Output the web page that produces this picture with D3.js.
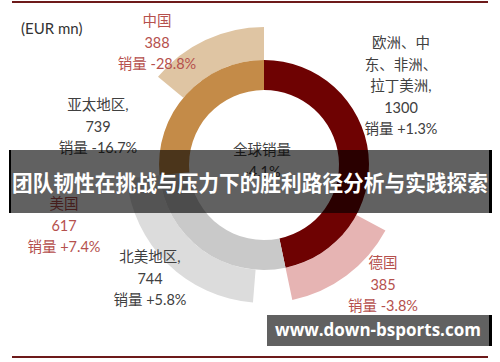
<!DOCTYPE html>
<html>
<head>
<meta charset="utf-8">
<script src="https://d3js.org/d3.v7.min.js"></script>
<style>
  body { margin: 0; background: #fff; }
  svg { display: block; }
</style>
</head>
<body>
<script>
// data
var regions = ["欧洲、中东、非洲、拉丁美洲", "北美地区", "亚太地区"];
var regionSales = [1300, 744, 739];
var regionGrowth = ["+1.3%", "+5.8%", "-16.7%"];
var countries = ["德国", "美国", "中国"];
var countrySales = [385, 617, 388];
var countryGrowth = ["-3.8%", "+7.4%", "-28.8%"];
var globalGrowth = "-4.1%";
var unit = "(EUR mn)";
var title = "团队韧性在挑战与压力下的胜利路径分析与实践探索";
var site = "www.down-bsports.com";

// styling / layout
var W = 500, H = 362;
var cx = 264, cy = 165;
var rHole = 75, rInner = 105, rOuter = 138;
var regionColors = ["#6e0202", "#c9c9c9", "#c48b48"];
var countryColors = ["#e6b4b3", "#dcdcdc", "#dfc5a3"];
var darkText = "#404040", redText = "#b5504d";

var svg = d3.select("body").append("svg").attr("width", W).attr("height", H);

// frame lines
svg.append("rect").attr("x", 12).attr("y", 1).attr("width", 476).attr("height", 2).attr("fill", "#6d1a1a");
svg.append("rect").attr("x", 12).attr("y", 356).attr("width", 476).attr("height", 2).attr("fill", "#6d1a1a");

var total = d3.sum(regionSales);
var ang = d3.scaleLinear().domain([0, total]).range([0, 2 * Math.PI]);

var g = svg.append("g").attr("transform", "translate(" + cx + "," + cy + ")");

var pie = d3.pie().sort(null).value(function(d) { return d; });
var inner = pie(regionSales);
var arcIn = d3.arc().innerRadius(rHole).outerRadius(rInner);

// outer ring: each country sits at the end of its region
var cum = d3.cumsum(regionSales);
var outer = countrySales.map(function(v, i) {
  return { startAngle: ang(cum[i] - v), endAngle: ang(cum[i]), i: i };
});
var arcOut = d3.arc().innerRadius(rInner).outerRadius(rOuter);

g.selectAll("path.out").data(outer).enter().append("path")
  .attr("class", "out")
  .attr("d", arcOut)
  .attr("fill", function(d) { return countryColors[d.i]; });

g.selectAll("path.in").data(inner).enter().append("path")
  .attr("class", "in")
  .attr("d", arcIn)
  .attr("fill", function(d, i) { return regionColors[i]; });

// labels
var font = "Lato, 'Noto Sans CJK SC', sans-serif";
function label(lines, x, y0, color) {
  var t = svg.append("g");
  lines.forEach(function(s, k) {
    t.append("text")
      .attr("x", x).attr("y", y0 + k * 21.5)
      .attr("dy", "0.35em")
      .attr("text-anchor", "middle")
      .attr("font-family", font)
      .attr("font-size", 14.5)
      .attr("fill", color)
      .text(s);
  });
}

svg.append("text").attr("x", 21).attr("y", 29).attr("dy", "0.35em")
  .attr("font-family", font).attr("font-size", 15).attr("fill", "#333").text(unit);

label(["欧洲、中", "东、非洲、", "拉丁美洲,", regionSales[0], "销量 " + regionGrowth[0]], 401, 43, darkText);
label(["北美地区,", regionSales[1], "销量 " + regionGrowth[1]], 150, 257, darkText);
label([regions[2] + ",", regionSales[2], "销量 " + regionGrowth[2]], 98, 105, darkText);
label([countries[0], countrySales[0], "销量 " + countryGrowth[0]], 383, 263, redText);
label([countries[1], countrySales[1], "销量 " + countryGrowth[1]], 64, 204, redText);
label([countries[2], countrySales[2], "销量 " + countryGrowth[2]], 157, 21, redText);
label(["全球销量", globalGrowth], 262, 150, darkText);

// title banner
svg.append("rect").attr("x", 9).attr("y", 150).attr("width", 483).attr("height", 63).attr("fill", "rgba(0,0,0,0.62)");
svg.append("rect").attr("x", 9).attr("y", 150).attr("width", 2).attr("height", 63).attr("fill", "#000");
svg.append("rect").attr("x", 489).attr("y", 150).attr("width", 3).attr("height", 63).attr("fill", "#000");
svg.append("text").attr("x", 250).attr("y", 183).attr("dy", "0.36em")
  .attr("text-anchor", "middle")
  .attr("font-family", "'Noto Sans CJK SC', sans-serif").attr("font-weight", "bold")
  .attr("font-size", 22).attr("fill", "#fff")
  .attr("textLength", 476).attr("lengthAdjust", "spacingAndGlyphs")
  .text(title);

// site box
svg.append("rect").attr("x", 267).attr("y", 315).attr("width", 225).attr("height", 31).attr("fill", "rgba(0,0,0,0.62)");
svg.append("rect").attr("x", 489).attr("y", 315).attr("width", 3).attr("height", 31).attr("fill", "#000");
svg.append("text").attr("x", 378).attr("y", 330).attr("dy", "0.35em")
  .attr("text-anchor", "middle")
  .attr("font-family", "'Open Sans', sans-serif").attr("font-weight", "bold")
  .attr("font-size", 17).attr("fill", "#fff").text(site);
</script>
</body>
</html>
